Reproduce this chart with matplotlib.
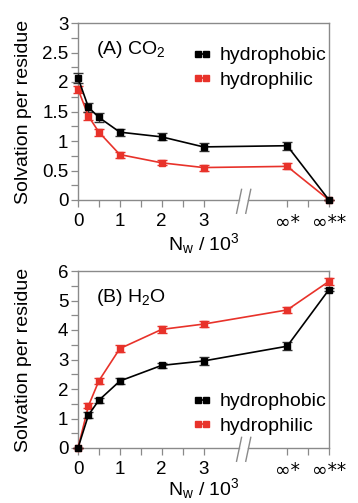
import numpy as np
import matplotlib
matplotlib.use('Agg')
import matplotlib.pyplot as plt
from matplotlib.ticker import FormatStrFormatter, MultipleLocator, FixedLocator

plt.rcParams['font.family'] = ['Liberation Sans', 'DejaVu Sans']
plt.rcParams['mathtext.fontset'] = 'custom'
plt.rcParams['mathtext.rm'] = 'Liberation Sans'
plt.rcParams['mathtext.it'] = 'Liberation Sans'

# data
x_pos = [0, 0.25, 0.5, 1, 2, 3, 5, 6]
x_ticks = [0, 1, 2, 3, 5, 6]
x_ticklabels = ['0', '1', '2', '3', '∞*', '∞**']
x_minor = [0.5, 1.5, 2.5, 5.5]

co2_phob = [2.07, 1.57, 1.40, 1.15, 1.07, 0.90, 0.92, 0.0]
co2_phob_err = [0.08, 0.07, 0.07, 0.06, 0.06, 0.07, 0.07, 0.0]
co2_phil = [1.88, 1.42, 1.15, 0.77, 0.63, 0.55, 0.57, 0.0]
co2_phil_err = [0.06, 0.07, 0.06, 0.05, 0.04, 0.05, 0.05, 0.0]

h2o_phob = [0.0, 1.12, 1.62, 2.27, 2.80, 2.95, 3.45, 5.37]
h2o_phob_err = [0.0, 0.10, 0.09, 0.09, 0.09, 0.13, 0.14, 0.06]
h2o_phil = [0.0, 1.43, 2.28, 3.37, 4.02, 4.20, 4.68, 5.65]
h2o_phil_err = [0.0, 0.08, 0.10, 0.11, 0.11, 0.11, 0.11, 0.11]

black = 'black'
red = '#e8322a'
spine_col = '#8a8a8a'
fs = 14

fig = plt.figure(figsize=(3.58, 5.03), dpi=100)
ax_top = fig.add_axes([78 / 358, 1 - 200 / 503, 251 / 358, 177 / 503])
ax_bot = fig.add_axes([78 / 358, 1 - 448 / 503, 251 / 358, 177 / 503])

panels = [
    (ax_top, co2_phob, co2_phob_err, co2_phil, co2_phil_err, 3, 0.5, 0.25,
     '(A) CO$_2$', 'upper right', (1.02, 0.91), 0),
    (ax_bot, h2o_phob, h2o_phob_err, h2o_phil, h2o_phil_err, 6, 1, 0.5,
     '(B) H$_2$O', 'lower right', (1.02, 0.03), -2.5),
]

for ax, yb, eb, yl, el, ymax, ymaj, ymin_, title, loc, anchor, xlpad in panels:
    for y, e, col, lab, z in [(yb, eb, black, 'hydrophobic', 4),
                              (yl, el, red, 'hydrophilic', 3)]:
        ecol = '#333333' if col == black else col
        ax.errorbar(x_pos, y, yerr=e, fmt='none', ecolor=ecol, elinewidth=1.0,
                    capsize=3.5, capthick=1.0, clip_on=False, zorder=z)
        ax.plot(x_pos, y, '-s', color=col, lw=1.2, ms=4.3, label=lab,
                clip_on=False, zorder=z + 1)
    ax.set_xlim(0, 6)
    ax.set_ylim(0, ymax)
    ax.xaxis.set_major_locator(FixedLocator(x_ticks))
    ax.xaxis.set_minor_locator(FixedLocator(x_minor))
    ax.set_xticklabels(x_ticklabels)
    for lbl in ax.get_xticklabels()[4:]:
        lbl.set_family('DejaVu Sans')
    ax.yaxis.set_major_locator(MultipleLocator(ymaj))
    ax.yaxis.set_minor_locator(MultipleLocator(ymin_))
    ax.yaxis.set_major_formatter(FormatStrFormatter('%g'))
    ax.tick_params(which='both', direction='out', length=5, width=0.9,
                   color=spine_col, labelsize=13.5)
    ax.tick_params(axis='x', pad=4)
    ax.tick_params(axis='y', pad=2)
    for sp in ax.spines.values():
        sp.set_color(spine_col)
        sp.set_linewidth(1.0)
    # broken x axis between 3 and inf*
    ax.spines['bottom'].set_visible(False)
    ax.plot([0, 3.85], [0, 0], color=spine_col, lw=1.0, clip_on=False,
            transform=ax.get_xaxis_transform(), zorder=2)
    ax.plot([4.07, 6], [0, 0], color=spine_col, lw=1.0, clip_on=False,
            transform=ax.get_xaxis_transform(), zorder=2)
    for xb in [3.85, 4.07]:
        ax.plot([xb - 0.06, xb + 0.06], [-0.075, 0.06], color=spine_col,
                lw=1.0, clip_on=False, transform=ax.get_xaxis_transform())
    ax.set_ylabel('Solvation per residue', fontsize=fs)
    ax.set_xlabel('N$_\\mathrm{w}$ / 10$^3$', fontsize=fs, labelpad=xlpad)
    ax.text(0.07, 0.85, title, transform=ax.transAxes, fontsize=fs,
            ha='left', va='center')
    ax.legend(loc=loc, bbox_to_anchor=anchor, frameon=False, fontsize=fs,
              numpoints=2, handlelength=1.0, handletextpad=0.4,
              labelspacing=0.35, borderaxespad=0.0)
    ax.yaxis.set_label_coords(-0.185, 0.5)

fig.savefig('out.png', dpi=100)
